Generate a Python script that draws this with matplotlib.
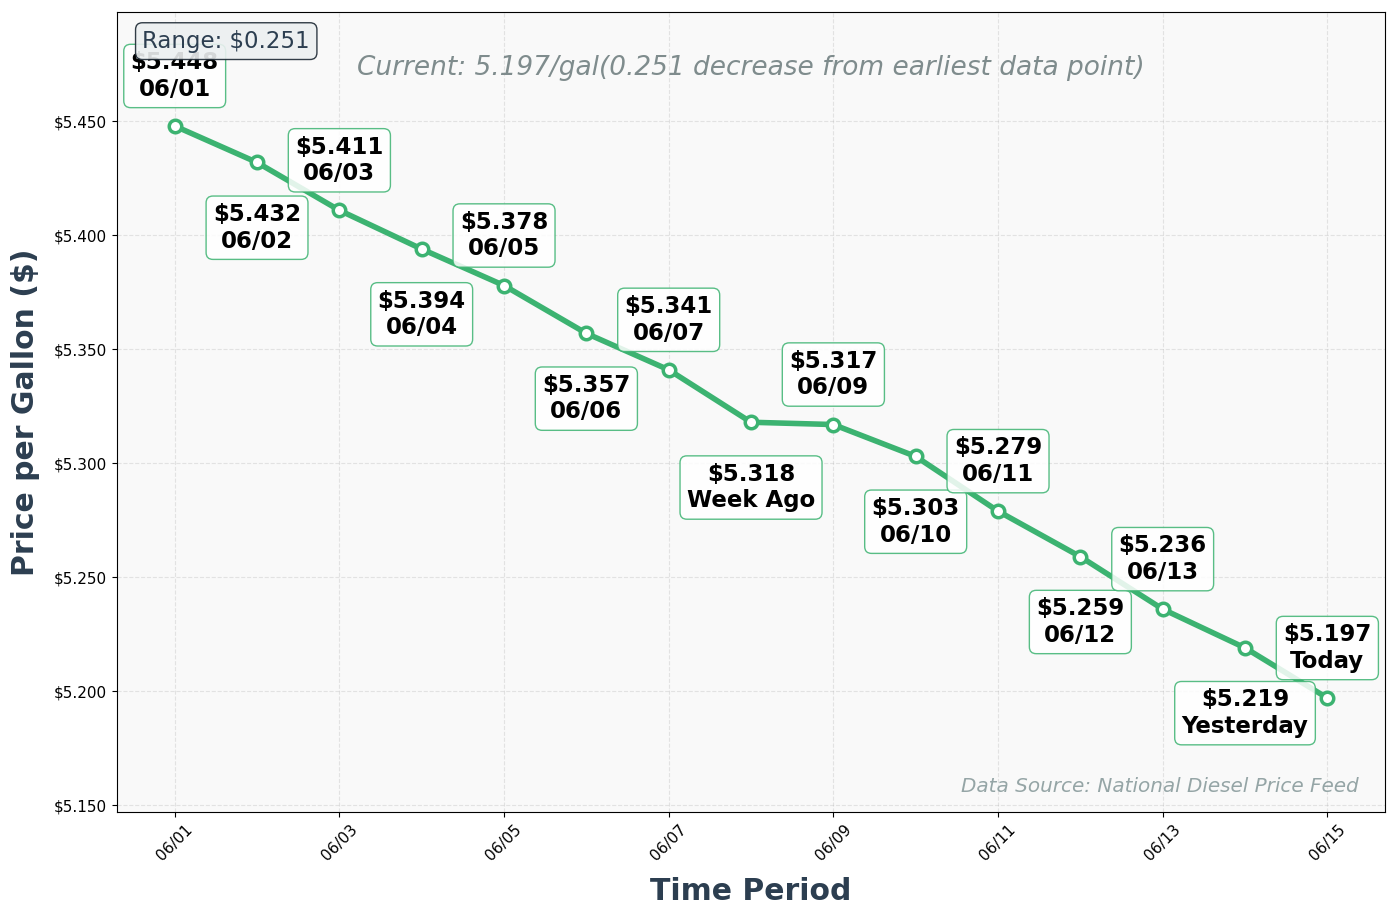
import pandas as pd
import numpy as np
import matplotlib.pyplot as plt
import matplotlib.dates as mdates
from matplotlib.ticker import FuncFormatter

# data
dates = pd.date_range('2024-06-01', '2024-06-15', freq='D')
prices = [5.448, 5.432, 5.411, 5.394, 5.378, 5.357, 5.341, 5.318,
          5.317, 5.303, 5.279, 5.259, 5.236, 5.219, 5.197]
point_labels = ['06/01', '06/02', '06/03', '06/04', '06/05', '06/06', '06/07',
                'Week Ago', '06/09', '06/10', '06/11', '06/12', '06/13',
                'Yesterday', 'Today']

green = '#3cb371'
dark = '#2c3e50'

fig, ax = plt.subplots(figsize=(13.97, 9.18), dpi=100)
fig.subplots_adjust(left=0.0838, right=0.9914, top=0.9869, bottom=0.1155)
ax.set_facecolor('#f9f9f9')

ax.plot(dates, prices, color=green, linewidth=4, marker='o', markersize=9,
        markerfacecolor='white', markeredgecolor=green, markeredgewidth=2.5, zorder=3)

# alternating labels above / below the points
for i, (d, p, lab) in enumerate(zip(dates, prices, point_labels)):
    off = 36 if i % 2 == 0 else -47
    ax.annotate(f'${p:.3f}\n{lab}', xy=(d, p), xytext=(0, off),
                textcoords='offset points', ha='center', va='center',
                fontsize=16.5, fontweight='bold', color='black',
                bbox=dict(boxstyle='round,pad=0.3', facecolor='white',
                          edgecolor=green, alpha=0.85), zorder=4)

lo, hi = min(prices), max(prices)
ax.set_ylim(lo - 0.05, hi + 0.05)
ax.yaxis.set_major_formatter(FuncFormatter(lambda v, _: f'${v:.3f}'))
ax.xaxis.set_major_locator(mdates.DayLocator(bymonthday=range(1, 32, 2)))
ax.xaxis.set_major_formatter(mdates.DateFormatter('%m/%d'))
plt.setp(ax.get_xticklabels(), rotation=45)
ax.tick_params(labelsize=11)

ax.grid(True, linestyle='--', alpha=0.3)
ax.set_xlabel('Time Period', fontsize=21.5, fontweight='bold', color=dark, labelpad=10)
ax.set_ylabel('Price per Gallon ($)', fontsize=21.5, fontweight='bold', color=dark, labelpad=10)

ax.text(0.02, 0.978, f'Range: ${hi - lo:.3f}', transform=ax.transAxes,
        ha='left', va='top', fontsize=16.5, color=dark, zorder=5,
        bbox=dict(boxstyle='round,pad=0.3', facecolor='#ecf0f1',
                  edgecolor='#1c2833', alpha=0.9))
ax.text(0.5, 0.93, f'Current: {prices[-1]:.3f}/gal({hi - lo:.3f} decrease from earliest data point)',
        transform=ax.transAxes, ha='center', va='center', fontsize=19,
        style='italic', color='#7f8c8d')
ax.text(0.979, 0.02, 'Data Source: National Diesel Price Feed', transform=ax.transAxes,
        ha='right', va='bottom', fontsize=14.4, style='italic', color='#95a5a6')

plt.savefig('out.png', dpi=100)
